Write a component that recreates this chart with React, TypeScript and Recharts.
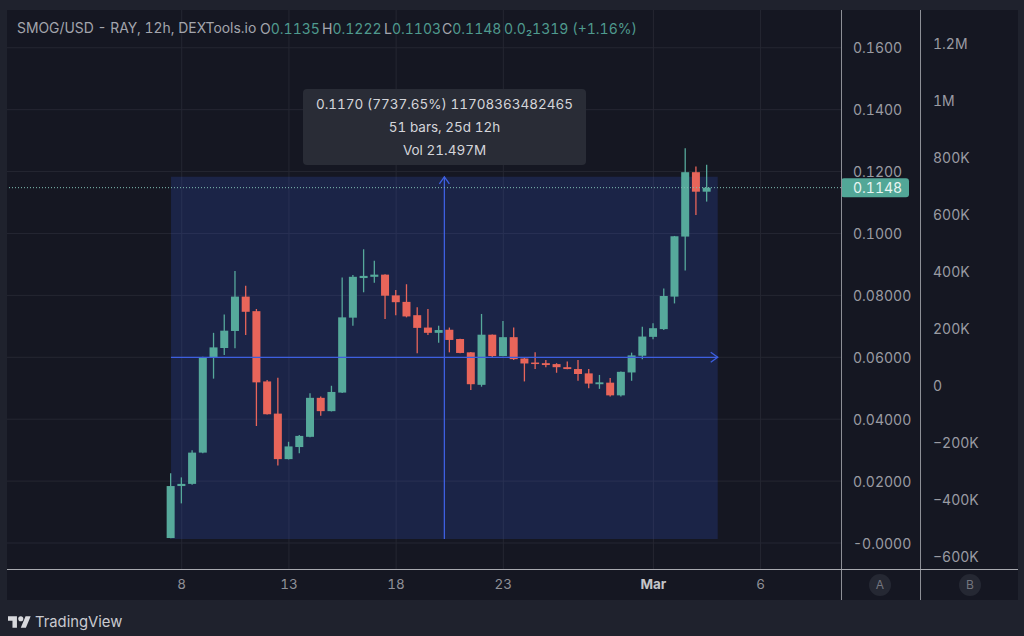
import React from 'react';
import {
  Bar,
  CartesianGrid,
  Cell,
  ComposedChart,
  ReferenceArea,
  ReferenceDot,
  ReferenceLine,
  XAxis,
  YAxis,
} from 'recharts';

const opens = [
  0.0016, 0.0184, 0.0191, 0.0292, 0.06, 0.063, 0.0685, 0.0796, 0.0749, 0.0522, 0.0418, 0.0271, 0.031,
  0.0343, 0.0469, 0.0426, 0.0486, 0.0728, 0.0856, 0.086, 0.0867, 0.08, 0.0779, 0.0736, 0.0696, 0.0679,
  0.0689, 0.0659, 0.0616, 0.0511, 0.0673, 0.0604, 0.0665, 0.0596, 0.0583, 0.0581, 0.0578, 0.0568, 0.0562,
  0.0548, 0.0513, 0.0518, 0.0477, 0.0551, 0.0605, 0.0666, 0.0691, 0.0796, 0.099, 0.1198, 0.1135,
];
const highs = [
  0.0225, 0.0212, 0.03, 0.0602, 0.0679, 0.0738, 0.0879, 0.0831, 0.0756, 0.0527, 0.0534, 0.0327, 0.0349,
  0.0484, 0.0473, 0.0508, 0.0858, 0.0866, 0.0949, 0.0912, 0.0868, 0.0817, 0.0836, 0.0762, 0.0756, 0.0702,
  0.0696, 0.066, 0.0617, 0.074, 0.0674, 0.0717, 0.0696, 0.06, 0.0616, 0.0591, 0.0581, 0.0586, 0.0591,
  0.0562, 0.0543, 0.0533, 0.0554, 0.0615, 0.0699, 0.071, 0.0822, 0.0992, 0.1275, 0.1216, 0.1222,
];
const lows = [
  0.0015, 0.0128, 0.0188, 0.029, 0.0531, 0.0607, 0.0629, 0.0672, 0.0378, 0.0415, 0.025, 0.027, 0.029,
  0.0342, 0.0411, 0.0425, 0.0485, 0.0702, 0.081, 0.0841, 0.0724, 0.0736, 0.0729, 0.0613, 0.0672, 0.0647,
  0.0616, 0.0613, 0.0494, 0.0505, 0.06, 0.0603, 0.0591, 0.0522, 0.0562, 0.0568, 0.055, 0.0561, 0.0524,
  0.05, 0.0498, 0.0473, 0.0473, 0.0524, 0.0594, 0.0658, 0.0688, 0.0774, 0.088, 0.106, 0.1103,
];
const closes = [
  0.0184, 0.0191, 0.0292, 0.06, 0.0632, 0.0686, 0.0796, 0.0747, 0.0519, 0.0416, 0.0271, 0.0312, 0.0346,
  0.0469, 0.0426, 0.0488, 0.0729, 0.086, 0.0863, 0.0867, 0.0799, 0.0778, 0.0732, 0.0695, 0.0679, 0.0688,
  0.0656, 0.0614, 0.0513, 0.0673, 0.0604, 0.0665, 0.0594, 0.058, 0.0579, 0.0575, 0.0568, 0.0562, 0.0546,
  0.0515, 0.0519, 0.0477, 0.0553, 0.0606, 0.0667, 0.0694, 0.0798, 0.0991, 0.1198, 0.1135, 0.1148,
];

const priceTicks = [0, 0.02, 0.04, 0.06, 0.08, 0.1, 0.12, 0.14, 0.16];
const priceLabels = ['-0.0000', '0.02000', '0.04000', '0.06000', '0.08000', '0.1000', '0.1200', '0.1400', '0.1600'];
const volumeTicks = [-600000, -400000, -200000, 0, 200000, 400000, 600000, 800000, 1000000, 1200000];
const volumeLabels = ['−600K', '−400K', '−200K', '0', '200K', '400K', '600K', '800K', '1M', '1.2M'];
const timeTicks = [1, 11, 21, 31, 45, 55];
const timeLabels = ['8', '13', '18', '23', 'Mar', '6'];

const lastPrice = 0.1148;
const boxStart = 0;
const boxEnd = 51;
const boxMid = 25.5;
const boxLow = 0.0013;
const boxHigh = 0.1183;
const boxMidPrice = 0.06;

const UP = '#56a99b';
const DOWN = '#e8655a';
const BLUE = '#3d5fe0';
const FONT = 'Inter, sans-serif';
const TNUM: React.CSSProperties = { fontVariantNumeric: 'tabular-nums' };

const candles = opens.map((open, i) => ({
  i,
  open,
  close: closes[i],
  high: highs[i],
  low: lows[i],
}));

// body position comes from the pixel height the Bar got for its low..high range
const Candle = (props: any) => {
  const { x, y, width, height, payload, fill } = props;
  const k = height / (payload.high - payload.low);
  const top = y + (payload.high - Math.max(payload.open, payload.close)) * k;
  const bottom = y + (payload.high - Math.min(payload.open, payload.close)) * k;
  const cx = x + width / 2;
  return (
    <g>
      <line x1={cx} x2={cx} y1={y} y2={y + height} stroke={fill} strokeWidth={1.3} />
      <rect x={x} y={top} width={width} height={Math.max(bottom - top, 1.5)} fill={fill} />
    </g>
  );
};

const ArrowRight = ({ cx, cy }: any) => (
  <path d={`M${cx - 7} ${cy - 5}L${cx} ${cy}L${cx - 7} ${cy + 5}`} fill="none" stroke={BLUE} strokeWidth={1.3} />
);
const ArrowUp = ({ cx, cy }: any) => (
  <path d={`M${cx - 5} ${cy + 7}L${cx} ${cy}L${cx + 5} ${cy + 7}`} fill="none" stroke={BLUE} strokeWidth={1.3} />
);

const PriceBadge = ({ viewBox }: any) => {
  const right = viewBox.x + viewBox.width;
  return (
    <g>
      <rect x={right} y={viewBox.y - 9.5} width={68} height={19} rx={3} fill="#52a797" />
      <text x={right + 12} y={viewBox.y + 5} fill="#e8f4f1" fontSize={14} fontFamily={FONT} style={TNUM}>
        {lastPrice.toFixed(4)}
      </text>
    </g>
  );
};

const AxisTick = ({ x, y, payload, labels, ticks }: any) => (
  <text x={x} y={y + 5.5} fill="#9a9ba2" fontSize={14} fontFamily={FONT} style={TNUM}>
    {labels[ticks.indexOf(payload.value)]}
  </text>
);

const TimeTick = ({ x, y, payload }: any) => {
  const label = timeLabels[timeTicks.indexOf(payload.value)];
  const bold = label === 'Mar';
  return (
    <text
      x={x}
      y={y}
      textAnchor="middle"
      dominantBaseline="middle"
      fill={bold ? '#c4c5c9' : '#8f9097'}
      fontSize={13.5}
      fontWeight={bold ? 700 : 400}
      fontFamily={FONT}
      style={TNUM}
    >
      {label}
    </text>
  );
};

const abs = (left: number, top: number, extra: React.CSSProperties = {}): React.CSSProperties => ({
  position: 'absolute',
  left,
  top,
  whiteSpace: 'nowrap',
  ...extra,
});

const Legend = ({ left, label, value }: { left: number; label?: string; value: string }) => (
  <span style={abs(left, 20, { fontSize: 14, lineHeight: '17px', ...TNUM })}>
    {label && <span style={{ color: '#a3a5ad' }}>{label}</span>}
    <span style={{ color: '#4f9a8e' }}>{value}</span>
  </span>
);

export default function App() {
  return (
    <div
      style={{
        position: 'absolute',
        left: 0,
        top: 0,
        width: 1024,
        height: 636,
        overflow: 'hidden',
        background: '#1f222d',
        fontFamily: FONT,
      }}
    >
      <div style={abs(7, 10, { width: 1011, height: 590, background: '#151722' })} />

      <div style={abs(7, 10)}>
        <ComposedChart width={1011} height={590} data={candles} margin={{ top: 0, right: 0, bottom: 0, left: 0 }}>
          <CartesianGrid stroke="#252732" strokeWidth={1} yAxisId="price" verticalValues={timeTicks} horizontalValues={priceTicks} />
          <XAxis
            dataKey="i"
            type="number"
            domain={[-15.3, 62.5]}
            ticks={timeTicks}
            height={31}
            axisLine={false}
            tickLine={false}
            tick={<TimeTick />}
            tickMargin={0}
            tickSize={16}
            interval={0}
            allowDataOverflow
          />
          <YAxis
            yAxisId="price"
            orientation="right"
            width={79}
            domain={[-0.0084, 0.1722]}
            ticks={priceTicks}
            interval={0}
            axisLine={false}
            tickLine={false}
            tickSize={0}
            tickMargin={12}
            tick={<AxisTick labels={priceLabels} ticks={priceTicks} />}
            allowDataOverflow
          />
          <YAxis
            yAxisId="volume"
            orientation="right"
            width={98}
            domain={[-645600, 1315800]}
            ticks={volumeTicks}
            interval={0}
            axisLine={false}
            tickLine={false}
            tickSize={0}
            tickMargin={13}
            tick={<AxisTick labels={volumeLabels} ticks={volumeTicks} />}
            allowDataOverflow
          />
          <ReferenceArea
            yAxisId="price"
            x1={boxStart}
            x2={boxEnd}
            y1={boxLow}
            y2={boxHigh}
            fill="rgb(56,88,220)"
            fillOpacity={0.2}
            stroke="none"
          />
          <ReferenceLine
            yAxisId="price"
            stroke={BLUE}
            strokeWidth={1.3}
            segment={[
              { x: boxStart, y: boxMidPrice },
              { x: boxEnd, y: boxMidPrice },
            ]}
          />
          <ReferenceLine
            yAxisId="price"
            stroke={BLUE}
            strokeWidth={1.3}
            segment={[
              { x: boxMid, y: boxLow },
              { x: boxMid, y: boxHigh },
            ]}
          />
          <ReferenceDot yAxisId="price" x={boxEnd} y={boxMidPrice} shape={<ArrowRight />} />
          <ReferenceDot yAxisId="price" x={boxMid} y={boxHigh} shape={<ArrowUp />} />
          <Bar yAxisId="price" dataKey={(d: any) => [d.low, d.high]} barSize={8} shape={<Candle />} isAnimationActive={false}>
            {candles.map((c) => (
              <Cell key={c.i} fill={c.close >= c.open ? UP : DOWN} />
            ))}
          </Bar>
          <ReferenceLine
            yAxisId="price"
            y={lastPrice}
            stroke="#7fbfb2"
            strokeWidth={1}
            strokeDasharray="1 2"
            label={{ content: (p: any) => <PriceBadge {...p} /> }}
          />
        </ComposedChart>
      </div>

      {/* pane separators */}
      <div style={abs(841, 10, { width: 1, height: 590, background: '#8d8f96' })} />
      <div style={abs(920, 10, { width: 1, height: 590, background: '#8d8f96' })} />
      <div style={abs(7, 569, { width: 1011, height: 1, background: '#a9aab0' })} />

      {/* header */}
      <span style={abs(17, 20, { fontSize: 13.9, lineHeight: '17px', color: '#a3a5ad', ...TNUM })}>
        SMOG/USD - RAY, 12h, DEXTools.io
      </span>
      <Legend left={260} label="O" value="0.1135" />
      <Legend left={322} label="H" value="0.1222" />
      <Legend left={384} label="L" value="0.1103" />
      <Legend left={442} label="C" value="0.1148" />
      <Legend left={504} value="0.0₂1319 (+1.16%)" />

      {/* measure tooltip */}
      <div
        style={abs(303, 89, {
          width: 283,
          height: 76,
          borderRadius: 4,
          background: '#292c36',
          color: '#d4d5da',
          fontSize: 13.5,
          lineHeight: '23px',
          textAlign: 'center',
          paddingTop: 3.5,
          boxSizing: 'border-box',
          ...TNUM,
        })}
      >
        <div>0.1170 (7737.65%) 11708363482465</div>
        <div>51 bars, 25d 12h</div>
        <div>Vol 21.497M</div>
      </div>

      {/* scale mode badges */}
      {[
        { left: 869, label: 'A' },
        { left: 959, label: 'B' },
      ].map((b) => (
        <div
          key={b.label}
          style={abs(b.left, 574, {
            width: 22,
            height: 22,
            borderRadius: 11,
            background: '#252833',
            color: '#74767f',
            fontSize: 12,
            lineHeight: '22px',
            textAlign: 'center',
          })}
        >
          {b.label}
        </div>
      ))}

      {/* footer */}
      <svg style={abs(8, 615)} width={23} height={14} viewBox="0 3 36 20">
        <path d="M14 22H7V11H0V4h14v18zM28 22h-8l7.5-18h8L28 22z" fill="#d8d9dd" />
        <circle cx={20} cy={8} r={4} fill="#d8d9dd" />
      </svg>
      <span style={abs(35, 613, { fontSize: 14.8, lineHeight: '19px', color: '#c9cad0' })}>TradingView</span>
    </div>
  );
}
